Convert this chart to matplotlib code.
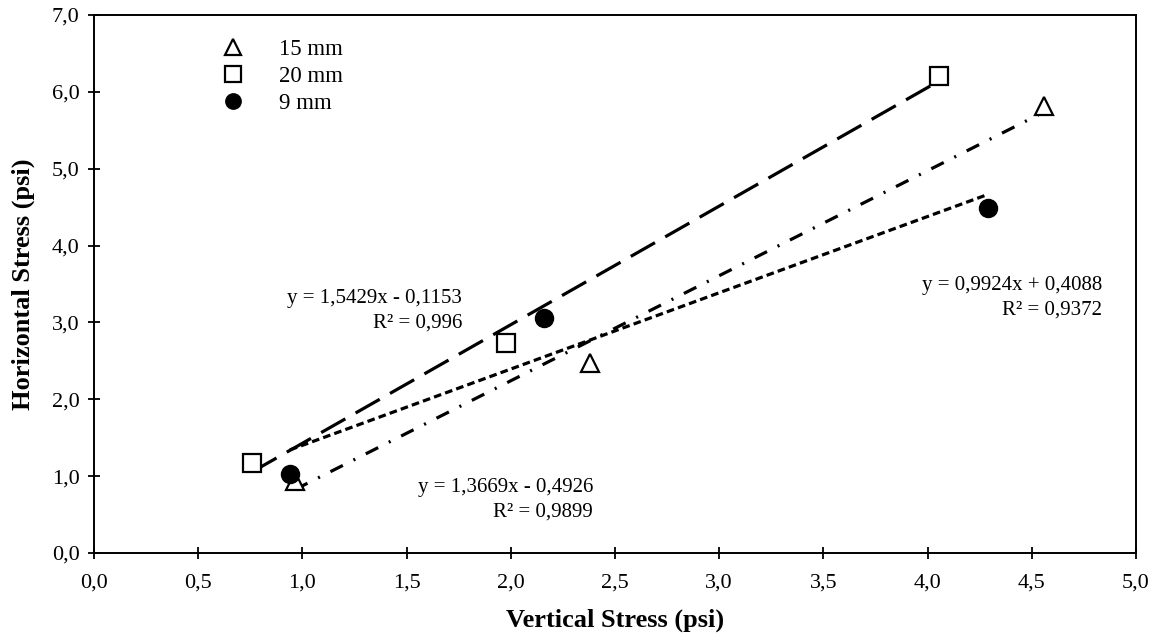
import matplotlib
matplotlib.use("Agg")
import matplotlib.pyplot as plt
import numpy as np

plt.rcParams['font.family'] = ['Liberation Serif', 'DejaVu Serif']
plt.rcParams['lines.scale_dashes'] = False

# Data
x15 = [0.965, 2.38, 4.56]
y15 = [0.94, 2.47, 5.82]
x20 = [0.76, 1.977, 4.055]
y20 = [1.165, 2.73, 6.20]
x9 = [0.94, 2.16, 4.29]
y9 = [1.03, 3.06, 4.49]

# Trendline coefficients (slope, intercept)
fit15 = (1.3669, -0.4926)
fit20 = (1.5429, -0.1153)
fit9 = (0.9924, 0.4088)

xticks = np.arange(0, 5.01, 0.5)
yticks = np.arange(0, 7.01, 1.0)

fig = plt.figure(figsize=(11.59, 6.34), dpi=100)
ax = fig.add_axes([94/1159, 1-553/634, (1136-94)/1159, (553-15)/634])

def trend(xs, fit):
    xx = np.array([min(xs), max(xs)])
    return xx, fit[0]*xx + fit[1]

lw = 2.3
xx, yy = trend(x20, fit20)
ax.plot(xx, yy, color='black', lw=lw, dashes=(20, 8.5), zorder=2)
xx, yy = trend(x15, fit15)
ax.plot(xx, yy, color='black', lw=lw, dashes=(10, 8.5, 1.5, 8.5), zorder=2)
xx, yy = trend(x9, fit9)
ax.plot(xx, yy, color='black', lw=lw, dashes=(5.5, 3.0), zorder=2)

ax.plot(x15, y15, linestyle='none', marker='^', ms=13.5, mfc='white', mec='black', mew=1.6, label='15 mm', zorder=3)
ax.plot(x20, y20, linestyle='none', marker='s', ms=13, mfc='white', mec='black', mew=1.6, label='20 mm', zorder=3)
ax.plot(x9, y9, linestyle='none', marker='o', ms=13, mfc='black', mec='black', mew=1.0, label='9 mm', zorder=4)

ax.set_xlim(0, 5)
ax.set_ylim(0, 7)
ax.set_xticks(xticks)
ax.set_yticks(yticks)
ax.set_xticklabels([f"{v:.1f}".replace('.', ',') for v in xticks])
ax.set_yticklabels([f"{v:.1f}".replace('.', ',') for v in yticks])
ax.tick_params(direction='inout', length=9, width=1.3, labelsize=16, color='black')
ax.tick_params(axis='x', pad=10)
ax.tick_params(axis='y', pad=6)
for s in ax.spines.values():
    s.set_linewidth(1.4)
    s.set_color('black')

ax.set_xlabel('Vertical Stress (psi)', fontsize=19, fontweight='bold', labelpad=12)
ax.set_ylabel('Horizontal Stress (psi)', fontsize=19, fontweight='bold', labelpad=12)

leg = ax.legend(loc='upper left', bbox_to_anchor=(0.092, 0.993), frameon=False, fontsize=16.5,
                handletextpad=1.0, labelspacing=0.25, markerscale=0.85)

kw = dict(xycoords='figure pixels', ha='right', va='center', multialignment='right',
          fontsize=15, linespacing=1.4)
ax.annotate('y = 1,5429x - 0,1153\nR² = 0,996', xy=(462, 634-311), **kw)
ax.annotate('y = 1,3669x - 0,4926\nR² = 0,9899', xy=(593, 634-500), **kw)
ax.annotate('y = 0,9924x + 0,4088\nR² = 0,9372', xy=(1102, 634-298), **kw)

fig.savefig('out.png', dpi=100)
